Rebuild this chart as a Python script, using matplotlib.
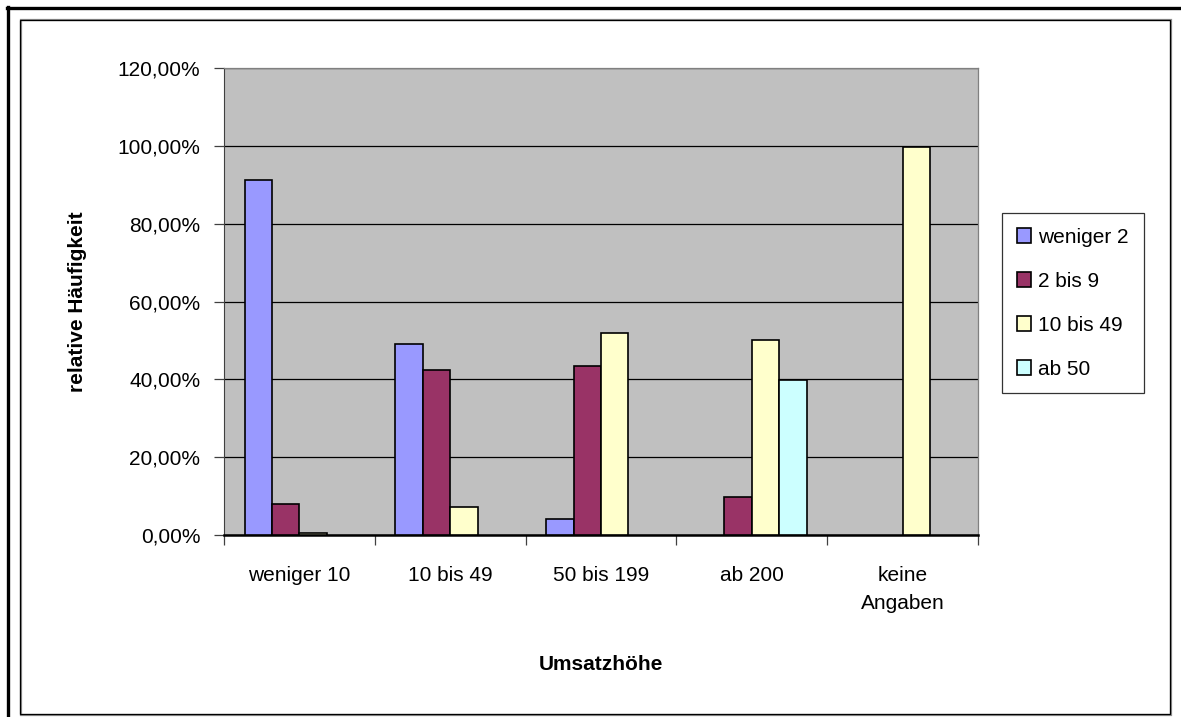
import numpy as np
import matplotlib
matplotlib.use('Agg')
import matplotlib.pyplot as plt
from matplotlib.patches import Rectangle
from matplotlib.lines import Line2D
from matplotlib.ticker import FuncFormatter, MultipleLocator

plt.rcParams['font.family'] = ['Liberation Sans', 'DejaVu Sans']

categories = ['weniger 10', '10 bis 49', '50 bis 199', 'ab 200', 'keine\nAngaben']
series = ['weniger 2', '2 bis 9', '10 bis 49', 'ab 50']
weniger_2 = [91.2, 49.2, 4.2, 0.0, 0.0]
bis_9 = [7.9, 42.3, 43.4, 9.8, 0.0]
bis_49 = [0.5, 7.3, 51.8, 50.2, 99.6]
ab_50 = [0.0, 0.0, 0.0, 39.8, 0.0]
colors = ['#9999FF', '#993366', '#FFFFCC', '#CCFFFF']

W, H = 1181, 717
fs = 15
fig = plt.figure(figsize=(W / 100, H / 100), dpi=100)

# page frame: thick top/left edge and thin inner box
fig.add_artist(Line2D([7 / W, 1.0], [1 - 8 / H, 1 - 8 / H], color='black', lw=2.4,
                      transform=fig.transFigure))
fig.add_artist(Line2D([8 / W, 8 / W], [0, 1 - 7 / H], color='black', lw=2.4,
                      transform=fig.transFigure))
fig.add_artist(Rectangle((21 / W, 1 - 715 / H), 1150 / W, 695 / H, fill=False,
                         ec='#909090', lw=1.6, transform=fig.transFigure))
fig.add_artist(Rectangle((20 / W, 1 - 714 / H), 1150 / W, 694 / H, fill=False,
                         ec='black', lw=0.9, transform=fig.transFigure))

ax = fig.add_axes([224 / W, 1 - 535 / H, 754 / W, 467 / H])
ax.set_facecolor('#C0C0C0')

x = np.arange(len(categories))
w = 0.182
data = [weniger_2, bis_9, bis_49, ab_50]
for i, (vals, c, name) in enumerate(zip(data, colors, series)):
    vals = np.array(vals, dtype=float)
    vals[vals == 0] = np.nan  # empty cells draw nothing
    ax.bar(x + (i - 1.5) * w, vals, w, color=c, edgecolor='black', linewidth=1.2,
           label=name, zorder=3)

ax.set_xlim(-0.5, len(categories) - 0.5)
ax.set_ylim(0, 120)
ax.yaxis.set_major_locator(MultipleLocator(20))
ax.yaxis.set_major_formatter(FuncFormatter(lambda v, p: ('%.2f%%' % v).replace('.', ',')))
ax.grid(axis='y', color='black', lw=0.9, zorder=1)
ax.set_axisbelow(True)

ax.set_xticks(x)
ax.set_xticklabels(categories, fontsize=fs, linespacing=1.65, va='top')
ax.set_xticks(np.arange(-0.5, len(categories)), minor=True)
ax.tick_params(axis='x', which='major', length=0, pad=22)
ax.tick_params(axis='x', which='minor', length=7, width=0.9, color='#404040', direction='out')
ax.tick_params(axis='y', labelsize=fs, length=7, width=0.9, color='#404040', pad=10)

for s in ['top', 'right']:
    ax.spines[s].set_color('#808080')
    ax.spines[s].set_linewidth(0.9)
ax.spines['left'].set_color('#404040')
ax.spines['bottom'].set_color('black')
ax.spines['bottom'].set_linewidth(1.8)

ax.set_xlabel('Umsatzhöhe', fontsize=fs, fontweight='bold', labelpad=30)
ax.set_ylabel('relative Häufigkeit', fontsize=fs, fontweight='bold', labelpad=22)

leg = fig.legend(loc='upper left', bbox_to_anchor=(1002 / W, 1 - 213 / H), fontsize=fs,
                 frameon=True, fancybox=False, edgecolor='black', handlelength=0.7,
                 handleheight=0.7, handletextpad=0.35, labelspacing=1.2,
                 borderpad=0.7, borderaxespad=0)
leg.get_frame().set_linewidth(0.9)

fig.savefig('out.png', dpi=100, facecolor='white')
